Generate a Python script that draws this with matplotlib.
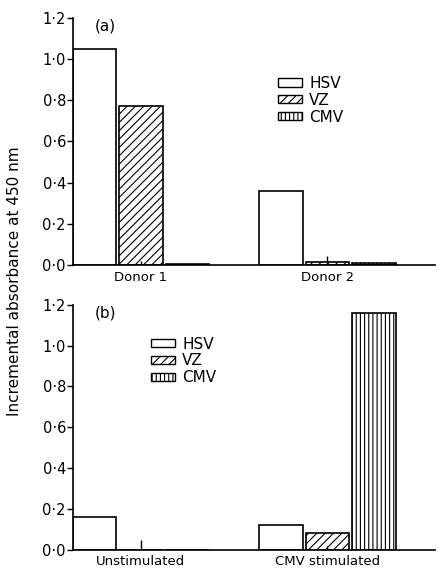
import matplotlib
matplotlib.use('Agg')
from matplotlib import pyplot as plt
from matplotlib.patches import Patch
from matplotlib.ticker import FuncFormatter
import numpy as np

plt.rcParams['font.family'] = ['DejaVu Sans']
plt.rcParams['hatch.linewidth'] = 0.8

viruses = ['HSV', 'VZ', 'CMV']
hatches = ['', '////', '||||']

groups_a = ['Donor 1', 'Donor 2']
hsv_a = [1.05, 0.36]
vz_a = [0.77, 0.015]
cmv_a = [0.008, 0.01]
vz_err_a = [0.02, 0.045]

groups_b = ['Unstimulated', 'CMV stimulated']
hsv_b = [0.16, 0.12]
vz_b = [0.0, 0.085]
cmv_b = [0.0, 1.16]
vz_err_b = [0.05, 0.02]

yticks = [0.0, 0.2, 0.4, 0.6, 0.8, 1.0, 1.2]


def dot_fmt(v, pos):
    return f'{v:.1f}'.replace('.', '\u00b7')


def draw_panel(ax, groups, series, vz_err, tag, leg_anchor):
    starts = np.array([0.0, 4.3])
    step = 1.07
    for i, (vals, h) in enumerate(zip(series, hatches)):
        ax.bar(starts + i * step, vals, width=1.0, align='edge',
               facecolor='white', edgecolor='black', linewidth=1.2, hatch=h)
    vz_x = starts + step + 0.5
    ax.vlines(vz_x, 0, vz_err, color='black', linewidth=1.0)
    ax.set_xlim(0, 8.35)
    ax.set_ylim(0, 1.2)
    ax.set_yticks(yticks)
    ax.yaxis.set_major_formatter(FuncFormatter(dot_fmt))
    ax.tick_params(axis='y', direction='out', length=4, width=1.0, labelsize=10.5, pad=1)
    ax.set_xticks(starts + step + 0.5)
    ax.set_xticklabels(groups, fontsize=9.5)
    ax.tick_params(axis='x', length=0, pad=4)
    for s in ['top', 'right']:
        ax.spines[s].set_visible(False)
    ax.spines['left'].set_linewidth(1.2)
    ax.spines['bottom'].set_linewidth(1.2)
    ax.text(0.06, 1.16, tag, fontsize=11, transform=ax.get_yaxis_transform(), va='center')
    handles = [Patch(facecolor='white', edgecolor='black', hatch=h, linewidth=1.0)
               for h in hatches]
    ax.legend(handles, viruses, loc='upper left', bbox_to_anchor=leg_anchor,
              frameon=False, fontsize=11, borderpad=0, handlelength=1.6,
              handleheight=0.45, handletextpad=0.45, labelspacing=0.12,
              borderaxespad=0)


fig = plt.figure(figsize=(4.39, 5.74), dpi=100)
ax_a = fig.add_axes([0.166, 0.538, 0.825, 0.431])
ax_b = fig.add_axes([0.166, 0.042, 0.825, 0.427])

draw_panel(ax_a, groups_a, [hsv_a, vz_a, cmv_a], vz_err_a, '(a)', (0.566, 0.765))
draw_panel(ax_b, groups_b, [hsv_b, vz_b, cmv_b], vz_err_b, '(b)', (0.215, 0.87))

fig.text(0.034, 0.51, 'Incremental absorbance at 450 nm', rotation=90,
         fontsize=11, ha='center', va='center')

fig.savefig('out.png', dpi=100)
